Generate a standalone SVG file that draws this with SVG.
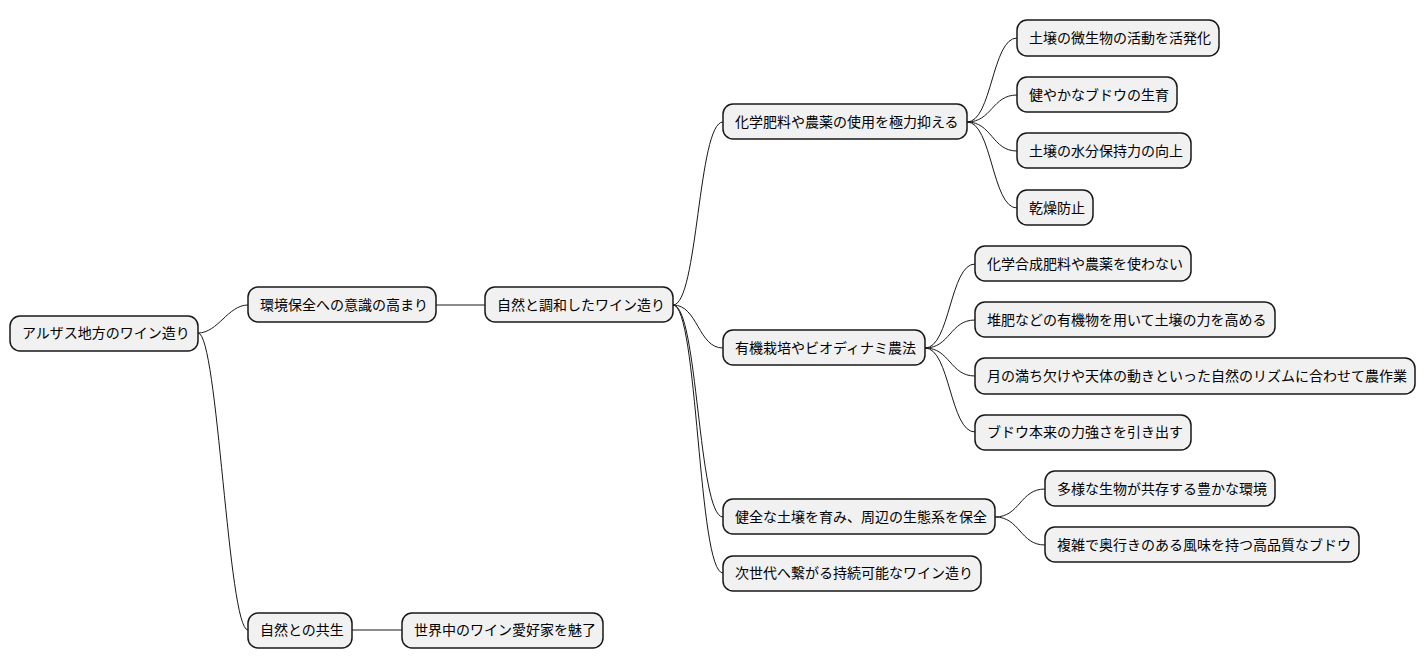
<svg xmlns="http://www.w3.org/2000/svg" width="1426" height="668" viewBox="0 0 1426 668">
<style>
.n rect{fill:#F1F1F1;stroke:#181818;stroke-width:1.5}
.n text{font-family:"Noto Sans CJK JP","Noto Sans",sans-serif;font-size:14px;fill:#000}
#c path{fill:none;stroke:#181818;stroke-width:1}
</style>
<rect width="1426" height="668" fill="#fff"/>
<g id="c">
<path d="M198 333 C218 333,228 305,248 305"/>
<path d="M198 333 C218 333,228 630,248 630"/>
<path d="M436 305 L485 305"/>
<path d="M352 630 L402 630"/>
<path d="M673 305 C698 305,698 122,723 122"/>
<path d="M673 305 C698 305,698 348,723 348"/>
<path d="M673 305 C698 305,698 517,723 517"/>
<path d="M673 305 C698 305,698 573,723 573"/>
<path d="M967 122 C992 122,992 38,1017 38"/>
<path d="M967 122 C992 122,992 95,1017 95"/>
<path d="M967 122 C992 122,992 151,1017 151"/>
<path d="M967 122 C992 122,992 208,1017 208"/>
<path d="M925 348 C950 348,950 264,975 264"/>
<path d="M925 348 C950 348,950 320,975 320"/>
<path d="M925 348 C950 348,950 376,975 376"/>
<path d="M925 348 C950 348,950 432,975 432"/>
<path d="M995 517 C1020 517,1020 489,1045 489"/>
<path d="M995 517 C1020 517,1020 545,1045 545"/>
</g>
<g id="n1" class="n"><rect x="10" y="316" width="188" height="35" rx="10"/><text x="22" y="338">アルザス地方のワイン造り</text></g>
<g id="n2" class="n"><rect x="248" y="287" width="188" height="35" rx="10"/><text x="260" y="310">環境保全への意識の高まり</text></g>
<g id="n3" class="n"><rect x="248" y="613" width="104" height="35" rx="10"/><text x="260" y="635">自然との共生</text></g>
<g id="n4" class="n"><rect x="485" y="287" width="188" height="35" rx="10"/><text x="497" y="310">自然と調和したワイン造り</text></g>
<g id="n5" class="n"><rect x="402" y="613" width="201" height="35" rx="10"/><text x="414" y="635">世界中のワイン愛好家を魅了</text></g>
<g id="n6" class="n"><rect x="723" y="104" width="244" height="35" rx="10"/><text x="735" y="127">化学肥料や農薬の使用を極力抑える</text></g>
<g id="n7" class="n"><rect x="723" y="330" width="202" height="35" rx="10"/><text x="735" y="353">有機栽培やビオディナミ農法</text></g>
<g id="n8" class="n"><rect x="723" y="499" width="272" height="35" rx="10"/><text x="735" y="522">健全な土壌を育み、周辺の生態系を保全</text></g>
<g id="n9" class="n"><rect x="723" y="556" width="258" height="35" rx="10"/><text x="735" y="578">次世代へ繋がる持続可能なワイン造り</text></g>
<g id="n10" class="n"><rect x="1017" y="20" width="202" height="36" rx="10"/><text x="1029" y="43">土壌の微生物の活動を活発化</text></g>
<g id="n11" class="n"><rect x="1017" y="77" width="160" height="35" rx="10"/><text x="1029" y="100">健やかなブドウの生育</text></g>
<g id="n12" class="n"><rect x="1017" y="133" width="174" height="35" rx="10"/><text x="1029" y="156">土壌の水分保持力の向上</text></g>
<g id="n13" class="n"><rect x="1017" y="190" width="76" height="35" rx="10"/><text x="1029" y="213">乾燥防止</text></g>
<g id="n14" class="n"><rect x="975" y="246" width="216" height="35" rx="10"/><text x="987" y="269">化学合成肥料や農薬を使わない</text></g>
<g id="n15" class="n"><rect x="975" y="302" width="300" height="35" rx="10"/><text x="987" y="325">堆肥などの有機物を用いて土壌の力を高める</text></g>
<g id="n16" class="n"><rect x="975" y="358" width="440" height="36" rx="10"/><text x="987" y="381">月の満ち欠けや天体の動きといった自然のリズムに合わせて農作業</text></g>
<g id="n17" class="n"><rect x="975" y="415" width="216" height="35" rx="10"/><text x="987" y="437">ブドウ本来の力強さを引き出す</text></g>
<g id="n18" class="n"><rect x="1045" y="471" width="230" height="35" rx="10"/><text x="1057" y="494">多様な生物が共存する豊かな環境</text></g>
<g id="n19" class="n"><rect x="1045" y="527" width="314" height="35" rx="10"/><text x="1057" y="550">複雑で奥行きのある風味を持つ高品質なブドウ</text></g>
</svg>
